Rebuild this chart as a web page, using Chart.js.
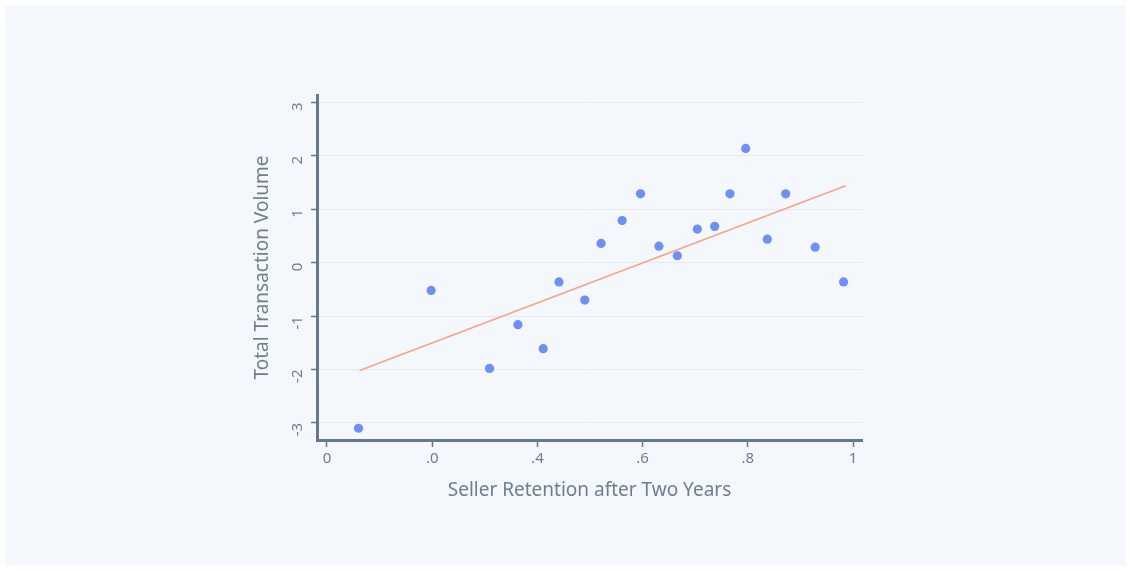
<!DOCTYPE html>
<html>
<head>
<meta charset="utf-8">
<script src="https://cdn.jsdelivr.net/npm/chart.js@4"></script>
<style>
  html, body { margin: 0; padding: 0; background: #ffffff; }
  #wrap {
    position: absolute; left: 6px; top: 5px;
    width: 1120px; height: 561px;
    background: #f4f7fb;
  }
</style>
</head>
<body>
<div id="wrap"><canvas id="scatterChart" width="1120" height="561"></canvas></div>
<script>
// values
var retention = [0.060, 0.198, 0.309, 0.363, 0.411, 0.441, 0.490, 0.521, 0.561, 0.596,
                 0.631, 0.666, 0.704, 0.737, 0.766, 0.796, 0.837, 0.872, 0.928, 0.982];
var volume = [-3.10, -0.52, -1.98, -1.16, -1.61, -0.36, -0.70, 0.36, 0.79, 1.29,
              0.31, 0.13, 0.63, 0.68, 1.29, 2.14, 0.44, 1.29, 0.29, -0.36];
var trendX = [0.062, 0.986];
var trendY = [-2.02, 1.44];
var xTicks = [0, 0.2, 0.4, 0.6, 0.8, 1];
var xTickLabels = ['0', '.0', '.4', '.6', '.8', '1'];
var yTicks = [-3, -2, -1, 0, 1, 2, 3];
var yTickLabels = ['-3', '-2', '-1', '0', '1', '2', '3'];

var axisColor = '#69778e';
var textColor = '#6f7d93';

Chart.defaults.font.family = '"Noto Sans", sans-serif';
Chart.defaults.color = textColor;

var points = retention.map(function(x, i) { return {x: x, y: volume[i]}; });
var trend = trendX.map(function(x, i) { return {x: x, y: trendY[i]}; });

var ctx = document.getElementById('scatterChart');
var myChart = new Chart(ctx, {
    type: 'scatter',
    data: {
        datasets: [
            {
                label: 'Sellers',
                data: points,
                backgroundColor: '#6f8ff4',
                borderWidth: 0,
                pointRadius: 4.6,
                pointHoverRadius: 4.6
            },
            {
                type: 'line',
                label: 'Fit',
                data: trend,
                borderColor: '#f9a47e',
                borderWidth: 1.5,
                pointRadius: 0,
                fill: false,
                tension: 0
            }
        ]
    },
    options: {
        responsive: false,
        animation: false,
        layout: {
            padding: { left: 241, right: 264, top: 90, bottom: 60 }
        },
        plugins: {
            legend: { display: false },
            tooltip: { enabled: false }
        },
        scales: {
            x: {
                type: 'linear',
                min: -0.019,
                max: 1.017,
                afterBuildTicks: function(scale) {
                    scale.ticks = xTicks.map(function(v) { return {value: v}; });
                },
                afterFit: function(scale) { scale.height = 66; },
                ticks: {
                    callback: function(v, i) { return xTickLabels[i]; },
                    font: { size: 15 },
                    color: textColor,
                    padding: 3,
                    maxRotation: 0
                },
                grid: {
                    drawOnChartArea: false,
                    drawTicks: true,
                    tickLength: 7,
                    tickColor: axisColor,
                    tickWidth: 1.5
                },
                border: { color: axisColor, width: 3 },
                title: {
                    display: true,
                    text: 'Seller Retention after Two Years',
                    font: { size: 19 },
                    color: textColor,
                    padding: { top: 10 }
                }
            },
            y: {
                type: 'linear',
                min: -3.32,
                max: 3.14,
                afterBuildTicks: function(scale) {
                    scale.ticks = yTicks.map(function(v) { return {value: v}; });
                },
                afterFit: function(scale) { scale.width = 70; },
                ticks: {
                    callback: function(v, i) { return yTickLabels[i]; },
                    font: { size: 15 },
                    color: textColor,
                    padding: 13,
                    minRotation: 90,
                    maxRotation: 90
                },
                grid: {
                    color: '#e6eaf0',
                    lineWidth: 1,
                    drawTicks: true,
                    tickLength: 6,
                    tickColor: axisColor,
                    tickWidth: 1.5
                },
                border: { color: axisColor, width: 3 },
                title: {
                    display: true,
                    text: 'Total Transaction Volume',
                    font: { size: 19 },
                    color: textColor,
                    padding: { bottom: 6 }
                }
            }
        }
    }
});
</script>
</body>
</html>
